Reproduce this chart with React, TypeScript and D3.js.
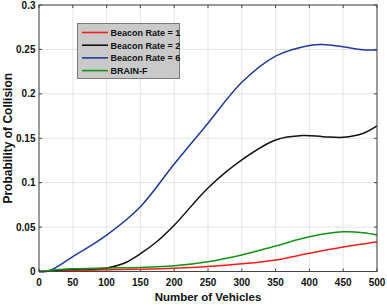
import React from "react";
import * as d3 from "d3";

const xTicks = [0, 50, 100, 150, 200, 250, 300, 350, 400, 450, 500];
const yTicks = [0, 0.05, 0.1, 0.15, 0.2, 0.25, 0.3];
const yTickLabels = ["0", "0.05", "0.1", "0.15", "0.2", "0.25", "0.3"];

const seriesNames = ["Beacon Rate = 1", "Beacon Rate = 2", "Beacon Rate = 6", "BRAIN-F"];
const seriesColors = ["#ff1a1a", "#111111", "#1f3a9e", "#139413"];

const redX = [0, 50, 100, 150, 200, 250, 300, 350, 400, 450, 500];
const redY = [0, 0.001, 0.002, 0.0026, 0.0036, 0.0055, 0.0086, 0.013, 0.0205, 0.0275, 0.0336];

const blackX = [0, 25, 50, 100, 125, 150, 175, 200, 250, 300, 350, 390, 420, 450, 480, 500];
const blackY = [0, 0.0015, 0.0025, 0.004, 0.009, 0.02, 0.034, 0.052, 0.094, 0.1256, 0.148, 0.153, 0.1518, 0.151, 0.1556, 0.1638];

const blueX = [0, 14, 50, 100, 150, 200, 250, 300, 350, 400, 420, 450, 475, 500];
const blueY = [0, 0.0005, 0.0167, 0.041, 0.073, 0.121, 0.167, 0.213, 0.2425, 0.2545, 0.2556, 0.253, 0.25, 0.2494];

const greenX = [0, 25, 50, 100, 150, 200, 250, 300, 350, 400, 450, 480, 500];
const greenY = [0, 0.002, 0.003, 0.004, 0.0046, 0.0064, 0.011, 0.0186, 0.0287, 0.039, 0.0447, 0.0437, 0.041];

const seriesX = [redX, blackX, blueX, greenX];
const seriesY = [redY, blackY, blueY, greenY];

const W = 387;
const H = 305;
const L = 39, R = 377, T = 5, B = 271.5;

export default function App() {
  const x = d3.scaleLinear().domain([0, 500]).range([L, R]);
  const y = d3.scaleLinear().domain([0, 0.3]).range([B, T]);
  const line = d3
    .line<[number, number]>()
    .x((d) => x(d[0]))
    .y((d) => y(d[1]))
    .curve(d3.curveCatmullRom.alpha(0.5));

  const font = "Arial, 'Liberation Sans', sans-serif";
  const tickLen = 3;

  return (
    <svg
      width={W}
      height={H}
      style={{ position: "absolute", left: 0, top: 0, background: "#fff" }}
    >
      <rect x={0} y={0} width={W} height={H} fill="#fff" />
      {xTicks.map((t) => (
        <line key={"gx" + t} x1={x(t)} x2={x(t)} y1={T} y2={B} stroke="#dedede" strokeWidth={0.8} />
      ))}
      {yTicks.map((t) => (
        <line key={"gy" + t} x1={L} x2={R} y1={y(t)} y2={y(t)} stroke="#dedede" strokeWidth={0.8} />
      ))}
      {xTicks.map((t) => (
        <g key={"tx" + t}>
          <line x1={x(t)} x2={x(t)} y1={B} y2={B - tickLen} stroke="#444" />
          <line x1={x(t)} x2={x(t)} y1={T} y2={T + tickLen} stroke="#444" />
          <text
            x={x(t)}
            y={286}
            textAnchor="middle"
            fontFamily={font}
            fontWeight="bold"
            fontSize={10}
            fill="#111"
          >
            {t}
          </text>
        </g>
      ))}
      {yTicks.map((t, i) => (
        <g key={"ty" + t}>
          <line x1={L} x2={L + tickLen} y1={y(t)} y2={y(t)} stroke="#444" />
          <line x1={R} x2={R - tickLen} y1={y(t)} y2={y(t)} stroke="#444" />
          <text
            x={35.5}
            y={y(t) + 3.6}
            textAnchor="end"
            fontFamily={font}
            fontWeight="bold"
            fontSize={10}
            fill="#111"
          >
            {yTickLabels[i]}
          </text>
        </g>
      ))}
      {seriesX.map((xs, si) => (
        <path
          key={"s" + si}
          d={line(xs.map((v, i) => [v, seriesY[si][i]] as [number, number])) || ""}
          fill="none"
          stroke={seriesColors[si]}
          strokeWidth={1.5}
        />
      ))}
      <rect x={L} y={T} width={R - L} height={B - T} fill="none" stroke="#444" strokeWidth={1} />
      <rect x={77.5} y={23.5} width={102} height={55} fill="#c9c9c9" stroke="#7a7a7a" strokeWidth={1} />
      {seriesNames.map((n, i) => (
        <g key={"lg" + i}>
          <line
            x1={82}
            x2={108}
            y1={32.5 + i * 12.7}
            y2={32.5 + i * 12.7}
            stroke={seriesColors[i]}
            strokeWidth={1.6}
          />
          <text
            x={110.5}
            y={32.5 + i * 12.7 + 3.3}
            fontFamily={font}
            fontWeight="bold"
            fontSize={9}
            fill="#111"
          >
            {n}
          </text>
        </g>
      ))}
      <text
        x={208}
        y={301}
        textAnchor="middle"
        fontFamily={font}
        fontWeight="bold"
        fontSize={11.5}
        fill="#111"
      >
        Number of Vehicles
      </text>
      <text
        transform={`translate(12,${(T + B) / 2}) rotate(-90)`}
        textAnchor="middle"
        fontFamily={font}
        fontWeight="bold"
        fontSize={12}
        fill="#111"
      >
        Probability of Collision
      </text>
    </svg>
  );
}
